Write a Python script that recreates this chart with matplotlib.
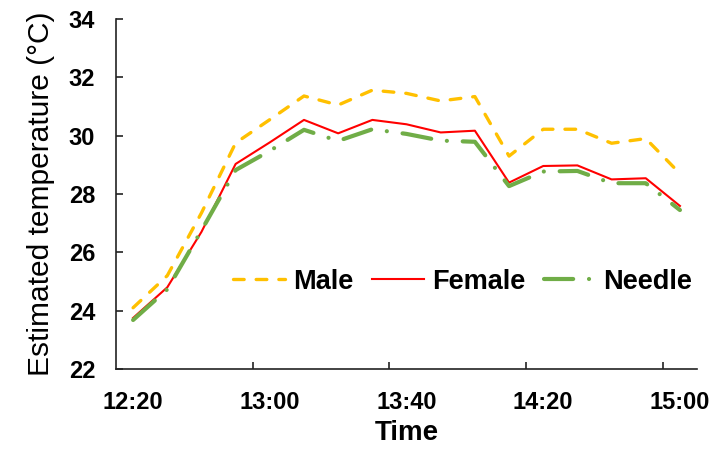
import numpy as np
import matplotlib.pyplot as plt

plt.rcParams['font.family'] = ['Liberation Sans', 'DejaVu Sans']

# estimated temperature every 10 min, 12:20 - 15:00
times = ['12:20', '12:30', '12:40', '12:50', '13:00', '13:10', '13:20', '13:30', '13:40',
         '13:50', '14:00', '14:10', '14:20', '14:30', '14:40', '14:50', '15:00']
male = [24.1, 25.2, 27.35, 29.75, 30.55, 31.36, 31.05, 31.56, 31.45,
        31.19, 31.34, 29.3, 30.22, 30.22, 29.74, 29.9, 28.7]
female = [23.75, 24.8, 26.7, 29.03, 29.77, 30.54, 30.08, 30.54, 30.39,
          30.11, 30.17, 28.39, 28.96, 28.98, 28.5, 28.54, 27.59]
needle = [23.68, 24.73, 26.75, 28.82, 29.48, 30.2, 29.82, 30.22, 30.06,
          29.83, 29.79, 28.27, 28.77, 28.79, 28.37, 28.37, 27.45]

x = np.arange(len(times))

fig = plt.figure(figsize=(7.13, 4.49), dpi=100)
ax = fig.add_axes([0.1627, 0.1782, 0.8149, 0.7795])

ax.plot(x, male, color='#FFC000', lw=2.4, dashes=(3.2, 3.6),
        dash_capstyle='round', label='Male')
ax.plot(x, female, color='#FF0000', lw=1.5, label='Female')
ax.plot(x, needle, color='#70AD47', lw=3.0, dashes=(7.0, 3.8, 0.01, 3.8),
        dash_capstyle='round', label='Needle')

ax.set_xlim(-0.5, len(times) - 0.5)
ax.set_ylim(22, 34)
ax.set_yticks(np.arange(22, 35, 2))
ax.set_xticks(x[::4])
ax.set_xticklabels(times[::4])
ax.set_xticks(x[::4][1:] - 0.5, minor=True)

for s in ['top', 'right']:
    ax.spines[s].set_visible(False)
for s in ['left', 'bottom']:
    ax.spines[s].set_linewidth(1.2)
    ax.spines[s].set_color('#222222')

ax.tick_params(axis='y', direction='in', length=5, width=1.2, pad=15,
               labelsize=17, color='#222222')
ax.tick_params(axis='x', which='major', length=0, pad=16, labelsize=17)
ax.tick_params(axis='x', which='minor', direction='in', length=5, width=1.2,
               color='#222222')
for lab in ax.get_xticklabels() + ax.get_yticklabels():
    lab.set_fontweight('bold')

ax.set_xlabel('Time', fontsize=20, fontweight='bold', labelpad=4)
ax.set_ylabel('Estimated temperature (\u00b0C)', fontsize=21.5, labelpad=10)

ax.legend(loc='center', bbox_to_anchor=(0.597, 0.249), ncol=3, frameon=False,
          prop={'size': 19.5, 'weight': 'bold'}, handlelength=1.9,
          handletextpad=0.3, columnspacing=0.7)

fig.savefig('out.png', dpi=100)
